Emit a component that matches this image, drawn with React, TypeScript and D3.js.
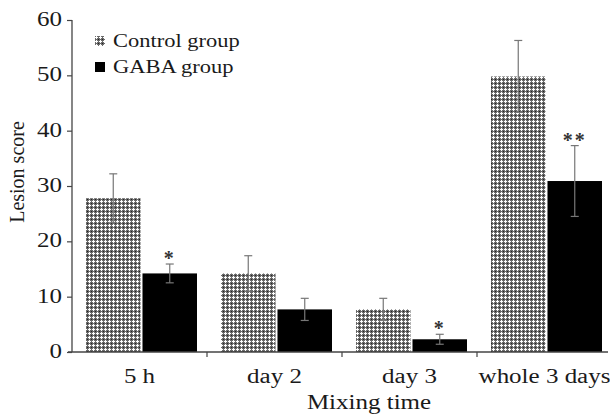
import React, { useEffect, useRef } from 'react';
import * as d3 from 'd3';

const categories = ['5 h', 'day 2', 'day 3', 'whole 3 days'];
const groups = ['Control group', 'GABA group'];
const controlMean = [27.8, 14.2, 7.7, 49.8];
const controlErr = [4.4, 3.2, 2.0, 6.5];
const gabaMean = [14.2, 7.7, 2.3, 30.9];
const gabaErr = [1.7, 2.0, 0.9, 6.4];
const gabaMarks = ['*', '', '*', '**'];
const yTicks = [0, 10, 20, 30, 40, 50, 60];

const W = 610;
const H = 417;
const FONT = '"Liberation Serif", "DejaVu Serif", serif';
// the picture is stretched sideways, so horizontal text is widened
const SX = 1.25;

const drawChart = (node: SVGSVGElement) => {
	const svg = d3.select(node);
	svg.selectAll('*').remove();

	const x0 = 72;
	const x1 = 612;
	const yTop = 20;
	const yBase = 352;

	const x = d3.scaleBand().domain(categories).range([x0, x1]);
	const xInner = d3.scaleBand().domain(groups).range([14, 125]).paddingInner(0.035);
	const y = d3.scaleLinear().domain([0, 60]).range([yBase, yTop]);

	const label = (parent, tx, ty, str, size, anchor) => parent.append('text')
		.attr('transform', `translate(${ tx },${ ty }) scale(${ SX },1)`)
		.attr('text-anchor', anchor)
		.attr('font-family', FONT).attr('font-size', size)
		.attr('fill', '#1a1a1a')
		.text(str);

	const defs = svg.append('defs');
	const pat = defs.append('pattern').attr('id', 'hatch')
		.attr('width', 4).attr('height', 4)
		.attr('patternUnits', 'userSpaceOnUse');
	pat.append('rect').attr('width', 4).attr('height', 4).attr('fill', '#6a6a6a');
	pat.append('rect').attr('x', 0).attr('y', 1).attr('width', 3).attr('height', 1).attr('fill', '#fff');
	pat.append('rect').attr('x', 1).attr('y', 0).attr('width', 1).attr('height', 3).attr('fill', '#fff');
	pat.append('rect').attr('x', 3).attr('y', 3).attr('width', 1).attr('height', 1).attr('fill', '#222');

	const fills = ['url(#hatch)', '#000'];
	const series = [
		{ mean: controlMean, err: controlErr },
		{ mean: gabaMean, err: gabaErr }
	];

	const g = svg.append('g');

	series.forEach((s, si) => {
		const grp = groups[si];
		g.selectAll(`rect.s${ si }`).data(categories)
			.enter()
			.append('rect')
			.attr('class', `s${ si }`)
			.attr('x', (c) => (x(c) as number) + (xInner(grp) as number))
			.attr('width', xInner.bandwidth())
			.attr('y', (c, i) => y(s.mean[i]))
			.attr('height', (c, i) => yBase - y(s.mean[i]))
			.attr('fill', fills[si]);

		categories.forEach((c, i) => {
			const cx = (x(c) as number) + (xInner(grp) as number) + xInner.bandwidth() / 2;
			const hi = y(s.mean[i] + s.err[i]);
			const lo = y(s.mean[i] - s.err[i]);
			const col = '#777';
			g.append('line').attr('x1', cx).attr('x2', cx).attr('y1', hi).attr('y2', lo)
				.attr('stroke', col).attr('stroke-width', 1.2);
			[hi, lo].forEach((yy) => {
				g.append('line').attr('x1', cx - 4).attr('x2', cx + 4).attr('y1', yy).attr('y2', yy)
					.attr('stroke', col).attr('stroke-width', 1.2);
			});
			if (si === 1 && gabaMarks[i]) {
				g.append('text').attr('x', cx).attr('y', hi + 1)
					.attr('text-anchor', 'middle')
					.attr('font-family', FONT).attr('font-size', 20)
					.attr('font-weight', 'bold')
					.attr('letter-spacing', 2)
					.attr('fill', '#333')
					.text(gabaMarks[i]);
			}
		});
	});

	// y axis
	const yAxis = g.append('g').attr('transform', `translate(${ x0 },0)`)
		.call(d3.axisLeft(y).tickValues(yTicks).tickSize(5).tickFormat(() => ''));
	yAxis.select('.domain').attr('stroke', '#444').attr('stroke-width', 1.3)
		.attr('d', `M0,${ yTop }V${ yBase }`);
	yAxis.selectAll('.tick line').attr('stroke', '#444').attr('stroke-width', 1.2);
	yTicks.forEach((t) => label(g, x0 - 10, y(t) + 6, String(t), 20, 'end'));

	// x axis
	const xAxis = g.append('g').attr('transform', `translate(0,${ yBase })`)
		.call(d3.axisBottom(x).tickSize(0).tickFormat(() => ''));
	xAxis.select('.domain').attr('stroke', '#444').attr('stroke-width', 1.3)
		.attr('d', `M${ x0 - 4 },0H${ x1 - 4 }`);
	categories.slice(1).forEach((c) => {
		const xx = x(c) as number;
		xAxis.append('line').attr('x1', xx).attr('x2', xx).attr('y1', 0).attr('y2', 5)
			.attr('stroke', '#444').attr('stroke-width', 1.2);
	});
	categories.forEach((c) => label(g, (x(c) as number) + x.bandwidth() / 2, 383, c, 20, 'middle'));

	label(svg, 369, 409, 'Mixing time', 20, 'middle');
	svg.append('text').attr('transform', 'translate(24,172) rotate(-90)')
		.attr('text-anchor', 'middle').attr('font-family', FONT).attr('font-size', 20)
		.attr('fill', '#1a1a1a').text('Lesion score');

	// legend
	const leg = svg.append('g').attr('transform', 'translate(95,36)');
	groups.forEach((grp, i) => {
		const row = leg.append('g').attr('transform', `translate(0,${ i * 26 })`);
		row.append('rect').attr('width', 10).attr('height', 10).attr('fill', fills[i]);
		label(row, 18, 11, grp, 18, 'start');
	});
};

const App = () => {
	const ref = useRef<SVGSVGElement>(null);

	useEffect(() => {
		if (ref.current) drawChart(ref.current);
	});

	return (
		<svg ref={ ref } width={ W } height={ H } style={ { position: 'absolute', left: 0, top: 0 } }/>
	);
};

export default App;
